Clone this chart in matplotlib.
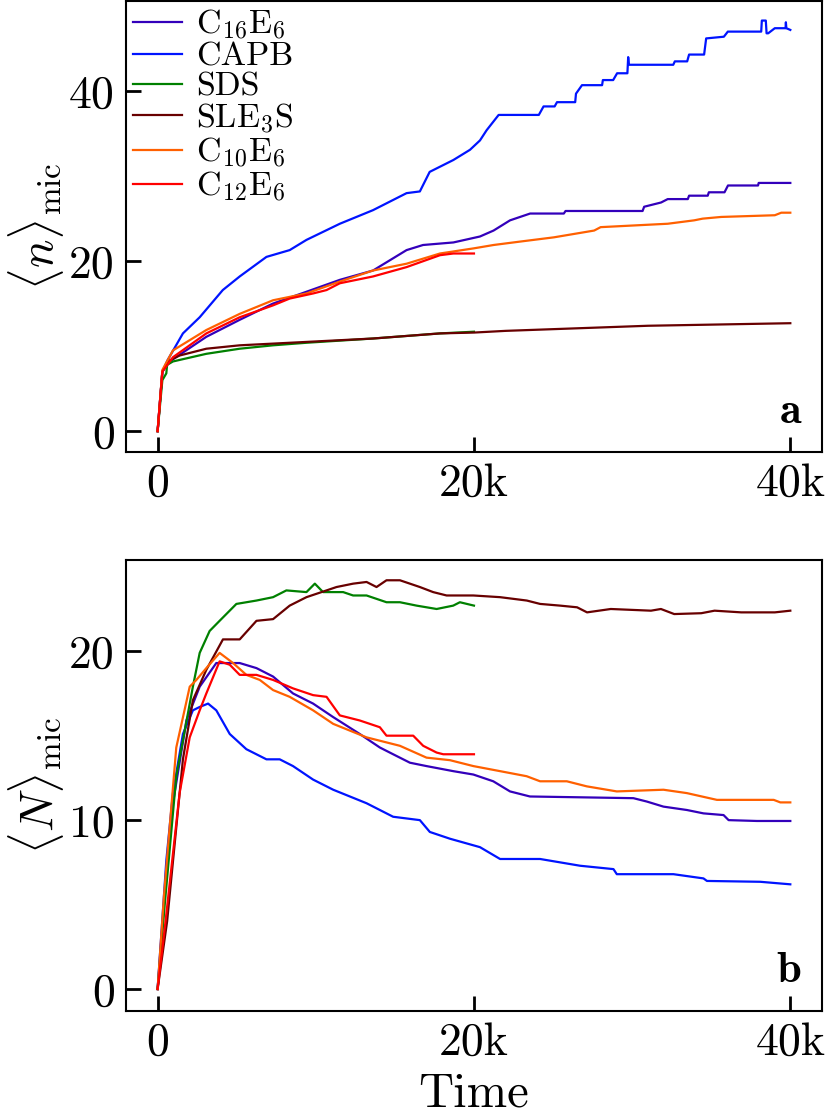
import matplotlib
matplotlib.use('Agg')
import matplotlib.pyplot as plt

plt.rcParams['font.family'] = 'cmr10'
plt.rcParams['mathtext.fontset'] = 'cm'
plt.rcParams['axes.unicode_minus'] = False

labels = [r'$\mathrm{C}_{16}\mathrm{E}_{6}$', 'CAPB', 'SDS', r'$\mathrm{SLE}_{3}\mathrm{S}$',
          r'$\mathrm{C}_{10}\mathrm{E}_{6}$', r'$\mathrm{C}_{12}\mathrm{E}_{6}$']
colors = ['#3300bb', '#0014ff', '#008000', '#680000', '#ff6000', '#ff0000']

# ---- panel a: <n>_mic ----
c16_a_t = [0, 300, 760, 3080, 5190, 7280, 9410, 11520, 13620, 15740, 16780, 18700, 20380, 21240, 22280,
           23550, 25680, 25790, 30660, 30760, 31830, 32250, 33520, 33600, 34780, 34850, 35840, 36060,
           37960, 38000, 40000]
c16_a = [0, 7.0, 8.2, 11.1, 13.1, 15.0, 16.4, 17.8, 18.9, 21.3, 21.9, 22.2, 22.9, 23.6, 24.8,
         25.6, 25.6, 25.9, 25.9, 26.4, 26.9, 27.3, 27.3, 27.7, 27.7, 28.1, 28.1, 28.9,
         28.9, 29.2, 29.2]

capb_a_t = [0, 300, 630, 1600, 2660, 4120, 5190, 6880, 8350, 9410, 11520, 13620, 15740, 16580, 17200,
            18700, 19750, 20380, 20800, 21560, 24100, 24400, 25100, 25250, 26400, 26450, 26830, 28100,
            28150, 28800, 29050, 29700, 29750, 29800, 32600, 32700, 33480, 33600, 34550, 34680, 35800,
            36050, 38160, 38200, 38450, 38500, 38600, 39020, 39700, 39720, 39750, 40000]
capb_a = [0, 7.0, 8.35, 11.5, 13.4, 16.6, 18.2, 20.5, 21.3, 22.5, 24.4, 26.0, 28.0, 28.2, 30.5,
          31.9, 33.1, 34.2, 35.4, 37.2, 37.2, 38.2, 38.2, 38.7, 38.7, 39.7, 40.7, 40.7,
          41.3, 41.3, 42.1, 42.1, 44.0, 43.1, 43.1, 43.5, 43.5, 44.3, 44.3, 46.2, 46.4,
          47.0, 47.0, 48.3, 48.3, 46.8, 46.8, 47.4, 47.4, 48.1, 47.4, 47.2]

sds_a_t = [0, 300, 550, 600, 970, 3080, 5190, 7300, 9410, 13620, 17850, 20000]
sds_a = [0, 6.0, 6.8, 7.8, 8.2, 9.1, 9.7, 10.1, 10.4, 10.9, 11.5, 11.7]

sle_a_t = [0, 300, 630, 1390, 3080, 5190, 9410, 13620, 17850, 20000, 22000, 25000, 28000, 31000,
           34000, 37000, 40000]
sle_a = [0, 7.0, 8.2, 8.9, 9.7, 10.1, 10.5, 10.9, 11.5, 11.6, 11.8, 12.0, 12.2, 12.4,
         12.5, 12.6, 12.7]

c10_a_t = [0, 300, 970, 3080, 5190, 7300, 9410, 11520, 13620, 15740, 17850, 19970, 21240, 22910,
           25050, 27600, 28010, 32250, 33920, 34460, 35630, 39020, 39430, 40000]
c10_a = [0, 7.2, 9.5, 11.9, 13.8, 15.4, 16.2, 17.6, 18.9, 19.7, 20.9, 21.5, 21.9, 22.3,
         22.8, 23.6, 24.0, 24.4, 24.8, 25.0, 25.2, 25.4, 25.7, 25.7]

c12_a_t = [0, 300, 970, 3080, 5190, 7300, 8350, 9830, 10680, 11520, 13620, 15740, 17850, 18700, 20000]
c12_a = [0, 7.0, 8.7, 11.5, 13.4, 14.8, 15.6, 16.2, 16.6, 17.4, 18.2, 19.3, 20.7, 20.9, 20.9]

# ---- panel b: <N>_mic ----
c16_b_t = [0, 400, 970, 1820, 2660, 3710, 5190, 6250, 7300, 8560, 9830, 11100, 12780, 14050, 14890,
           15950, 17000, 18690, 19960, 21220, 22280, 23540, 30080, 30930, 31980, 33460, 34510, 35780,
           36100, 37890, 40000]
c16_b = [0, 5.0, 11.0, 15.9, 17.9, 19.3, 19.3, 19.0, 18.5, 17.5, 16.9, 16.1, 15.1, 14.3, 13.9,
         13.4, 13.2, 12.9, 12.7, 12.3, 11.7, 11.4, 11.3, 11.1, 10.8, 10.6, 10.4, 10.3,
         10.0, 9.95, 9.95]

capb_b_t = [0, 550, 970, 1600, 2230, 2660, 3190, 3710, 4560, 5610, 6880, 7720, 8560, 9830, 11100,
            13210, 14890, 16580, 17210, 18480, 20380, 21650, 24180, 26710, 28820, 29030, 32610,
            34510, 34730, 38100, 40000]
capb_b = [0, 7.6, 11.6, 15.1, 16.5, 16.7, 16.9, 16.5, 15.1, 14.2, 13.6, 13.6, 13.2, 12.4, 11.8,
          11.0, 10.2, 10.0, 9.3, 8.9, 8.4, 7.7, 7.7, 7.3, 7.1, 6.8, 6.8,
          6.55, 6.4, 6.35, 6.2]

sds_b_t = [0, 450, 1180, 2230, 2660, 3290, 3920, 4980, 6250, 7300, 8140, 9410, 9940, 10460, 11730,
           12360, 13210, 14470, 15320, 16370, 17640, 18690, 19110, 20000]
sds_b = [0, 5.0, 12.6, 17.9, 19.9, 21.2, 21.8, 22.8, 23.0, 23.2, 23.6, 23.5, 24.0, 23.5, 23.5,
         23.3, 23.3, 22.9, 22.9, 22.7, 22.5, 22.7, 22.9, 22.7]

sle_b_t = [0, 600, 1600, 2230, 3080, 4130, 5190, 6250, 7300, 8350, 9410, 10680, 11310, 12360, 13210,
           13840, 14470, 15320, 16580, 17420, 18270, 19960, 21650, 23340, 24180, 25440, 26520, 27150,
           28650, 31190, 31820, 32660, 34370, 35210, 36900, 39020, 40000]
sle_b = [0, 4.0, 13.6, 17.1, 18.9, 20.7, 20.7, 21.8, 21.9, 22.7, 23.2, 23.6, 23.8, 24.0, 24.1,
         23.8, 24.2, 24.2, 23.8, 23.5, 23.3, 23.3, 23.2, 23.0, 22.8, 22.7, 22.6, 22.3,
         22.5, 22.4, 22.5, 22.2, 22.25, 22.4, 22.3, 22.3, 22.4]

c10_b_t = [0, 400, 1180, 2030, 2450, 3080, 3920, 4770, 5610, 6460, 7300, 8350, 9830, 11100, 13210,
           15320, 17000, 18480, 19960, 21650, 23330, 24180, 25870, 27130, 29030, 31980, 33460, 35360,
           38950, 39370, 40000]
c10_b = [0, 5.5, 14.3, 17.9, 18.3, 19.0, 19.9, 19.3, 18.6, 18.3, 17.7, 17.3, 16.5, 15.7, 14.9,
         14.4, 13.7, 13.55, 13.2, 12.9, 12.6, 12.3, 12.3, 12.0, 11.7, 11.8, 11.6, 11.2,
         11.2, 11.05, 11.05]

c12_b_t = [0, 500, 1390, 2030, 2660, 3080, 3920, 4560, 5190, 6250, 7300, 8560, 9830, 10680, 11520,
           12780, 14050, 14470, 16160, 16790, 17640, 18060, 20000]
c12_b = [0, 4.0, 11.6, 14.9, 16.5, 17.5, 19.4, 19.2, 18.6, 18.6, 18.3, 17.8, 17.4, 17.3, 16.2,
         15.9, 15.5, 15.0, 15.0, 14.4, 14.0, 13.9, 13.9]

panel_a = [(c16_a_t, c16_a), (capb_a_t, capb_a), (sds_a_t, sds_a), (sle_a_t, sle_a),
           (c10_a_t, c10_a), (c12_a_t, c12_a)]
panel_b = [(c16_b_t, c16_b), (capb_b_t, capb_b), (sds_b_t, sds_b), (sle_b_t, sle_b),
           (c10_b_t, c10_b), (c12_b_t, c12_b)]

fig = plt.figure(figsize=(8.25, 11.18), dpi=100)
ax_a = fig.add_axes([0.1527, 0.5957, 0.8436, 0.4034])
ax_b = fig.add_axes([0.1527, 0.0957, 0.8436, 0.4034])

for ax, series in [(ax_a, panel_a), (ax_b, panel_b)]:
    for (t, y), lab, col in zip(series, labels, colors):
        ax.plot(t, y, color=col, lw=1.6, label=lab)
    ax.set_xlim(-2000, 42000)
    ax.set_xticks([0, 20000, 40000])
    ax.set_xticklabels(['0', '20k', '40k'])
    ax.tick_params(direction='in', length=11, width=2, labelsize=33, pad=8,
                   top=False, right=False)
    for s in ax.spines.values():
        s.set_linewidth(1.5)

ax_a.set_ylim(-2.45, 50.6)
ax_a.set_yticks([0, 20, 40])
ax_b.set_ylim(-1.3, 25.4)
ax_b.set_yticks([0, 10, 20])

ax_a.set_ylabel(r'$\langle n \rangle_{\mathrm{mic}}$', fontsize=34, labelpad=2)
ax_b.set_ylabel(r'$\langle N \rangle_{\mathrm{mic}}$', fontsize=34, labelpad=2)
ax_b.set_xlabel('Time', fontsize=35, labelpad=6)

ax_a.text(0.97, 0.045, 'a', transform=ax_a.transAxes, ha='right', va='bottom',
          fontsize=32, family='cmb10')
ax_b.text(0.97, 0.045, 'b', transform=ax_b.transAxes, ha='right', va='bottom',
          fontsize=32, family='cmb10')

ax_a.legend(loc='upper left', frameon=False, fontsize=24.5, handlelength=1.45,
            handletextpad=0.4, labelspacing=0.0, borderpad=0.0, borderaxespad=0.2)

fig.savefig('out.png', dpi=100)
